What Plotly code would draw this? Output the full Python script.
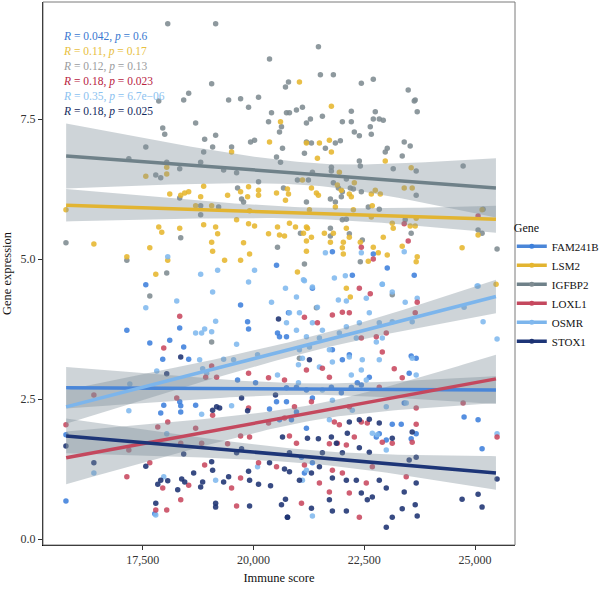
import plotly.graph_objects as go
import numpy as np

# ---------------- data ----------------
genes = ["FAM241B", "LSM2", "IGFBP2", "LOXL1", "OSMR", "STOX1"]
point_colors = {"FAM241B": "#3d80dc", "LSM2": "#e6b62e", "IGFBP2": "#7e8b91",
                "LOXL1": "#c8485f", "OSMR": "#80b8ee", "STOX1": "#1c3272"}
line_colors = {"FAM241B": "#4a86d8", "LSM2": "#e2b431", "IGFBP2": "#6f8189",
               "LOXL1": "#c4485e", "OSMR": "#7cb5ec", "STOX1": "#1d3577"}
stat_labels = ["<i>R</i> = 0.042, <i>p</i> = 0.6", "<i>R</i> = 0.11, <i>p</i> = 0.17",
               "<i>R</i> = 0.12, <i>p</i> = 0.13", "<i>R</i> = 0.18, <i>p</i> = 0.023",
               "<i>R</i> = 0.35, <i>p</i> = 6.7e\u221206", "<i>R</i> = 0.18, <i>p</i> = 0.025"]
stat_colors = ["#3a78d0", "#e8c040", "#9a9c9e", "#b8233f", "#8cc2f0", "#142a5e"]

igfbp2_pts = [
    (18063, 9.20), (19144, 9.20), (21464, 8.79), (20360, 8.57), (19054, 8.13), (18536, 7.96), (17860, 7.82),
    (18423, 7.84), (19437, 7.84), (19707, 7.86), (20112, 7.89), (20788, 8.16), (20720, 8.07), (21508, 8.29),
    (21801, 8.29), (22432, 8.14), (22702, 8.21), (23490, 8.02), (23648, 7.84), (19887, 7.71), (21103, 7.71),
    (17950, 7.34), (17995, 7.23), (18693, 7.43), (17568, 7.00), (18896, 7.14), (19144, 7.21), (19076, 7.00),
    (18874, 6.91), (19504, 7.00), (19932, 7.09), (20022, 7.12), (20338, 7.45), (20405, 7.61), (20743, 7.61),
    (20810, 7.61), (20968, 7.66), (20630, 7.36), (20585, 7.27), (20653, 6.98), (20518, 6.82), (20608, 6.73),
    (20990, 6.41), (18040, 6.73), (18333, 6.61), (17905, 6.45), (17793, 6.50), (17185, 6.79), (18806, 6.73),
    (19324, 6.59), (19617, 6.54), (20112, 6.38), (19639, 6.27), (20675, 6.27), (19729, 6.07), (19774, 6.02),
    (18333, 6.09), (18806, 5.95), (19211, 5.93), (18806, 5.79), (15766, 5.29), (18356, 5.38), (20540, 5.21),
    (17140, 4.98), (18040, 4.75), (17658, 4.34), (21058, 5.46),
    (21553, 7.55), (22206, 7.64), (22747, 7.63), (23693, 7.63), (23626, 7.82), (21193, 7.43), (21283, 7.50),
    (22004, 7.45), (22206, 7.45), (22634, 7.36), (22702, 7.50), (22837, 7.50), (22927, 7.48), (22274, 7.27),
    (22387, 7.20), (22657, 7.23), (21959, 7.11), (21846, 7.07), (21621, 6.98), (21306, 7.07), (21193, 7.09),
    (21148, 6.89), (23400, 7.09), (23535, 7.02), (23017, 6.98), (22972, 6.91), (23355, 6.84), (22387, 6.75),
    (22409, 6.66), (23152, 6.61), (23670, 6.57), (24729, 6.66), (21328, 6.55), (21756, 6.64), (21756, 6.57),
    (22094, 6.43), (21238, 6.41), (21801, 6.36), (21914, 6.27), (22184, 6.27), (22252, 6.25), (22432, 6.20),
    (22004, 6.20), (23670, 6.14), (21981, 6.11), (21734, 6.07), (21846, 6.02), (21193, 6.02), (22589, 5.93),
    (22837, 5.89), (25180, 5.89), (22004, 5.70), (22094, 5.71), (23422, 5.70), (21734, 5.55), (21734, 5.41),
    (22161, 5.45), (23557, 5.46), (25067, 5.52), (25157, 5.46), (22454, 5.34), (22409, 4.95), (21148, 4.91),
    (25495, 5.18), (23130, 4.36), (19054, 3.52), (21418, 4.13), (21035, 3.23)]

lsm2_pts = [
    (21035, 8.16), (21756, 7.73), (15766, 5.88), (16396, 5.27), (17140, 5.04), (17568, 6.48), (18040, 6.64),
    (18040, 6.52), (18108, 6.16), (18356, 6.14), (18446, 6.18), (18536, 6.20), (18874, 6.30), (18806, 6.11),
    (18693, 5.95), (19054, 5.95), (19504, 6.91), (20360, 7.09), (20608, 7.45), (19414, 6.14), (19707, 6.20),
    (19887, 6.29), (19865, 6.11), (20112, 6.23), (20112, 6.14), (20518, 6.18), (20720, 6.05), (20765, 6.25),
    (20788, 6.16), (19910, 5.86), (17860, 5.57), (17928, 5.48), (18333, 5.55), (18874, 5.61), (19144, 5.57),
    (19189, 5.45), (19617, 5.70), (19887, 5.63), (20022, 5.59), (20540, 5.57), (20810, 5.64), (20946, 5.57),
    (20338, 5.45), (20585, 5.43), (20698, 5.41), (19054, 5.30), (19076, 5.14), (19774, 5.29), (19910, 5.09),
    (17658, 5.20), (19346, 4.98), (19707, 4.98), (17793, 4.73), (18063, 4.98), (20990, 4.77),
    (21193, 7.07), (21486, 7.07), (21711, 7.12), (21756, 6.91), (21441, 6.80), (22972, 6.75), (21936, 6.55),
    (23557, 6.63), (21103, 6.41), (21306, 6.27), (21418, 6.18), (21463, 6.14), (22161, 6.16), (22206, 6.11),
    (22657, 6.16), (22747, 6.23), (22860, 6.16), (23400, 6.27), (23580, 6.27), (21891, 6.32), (21981, 6.23),
    (22274, 6.36), (22679, 5.95), (22252, 5.88), (21846, 5.93), (21261, 5.88), (22657, 5.75), (23670, 5.73),
    (23535, 5.59), (23648, 5.59), (23130, 5.64), (23152, 5.55), (25157, 5.88), (25067, 5.43), (24706, 5.20),
    (21193, 5.57), (21126, 5.46), (21216, 5.55), (21306, 5.39), (21598, 5.46), (21801, 5.46), (22094, 5.55),
    (22161, 5.39), (22026, 5.30), (21193, 5.32), (21734, 5.30), (22409, 5.30), (22927, 5.39), (22004, 5.20),
    (22702, 5.21), (23355, 5.23), (23017, 5.07), (22815, 5.11), (23693, 5.04), (23670, 4.95), (22589, 4.96),
    (22026, 5.09), (21193, 5.14), (22094, 4.48), (25473, 4.55), (22184, 4.32)]

fam241b_pts = [
    (17568, 4.54), (17140, 3.73), (17658, 3.50), (18333, 3.77), (18108, 3.55), (18423, 3.43), (17950, 3.21),
    (18536, 3.21), (18333, 2.45), (18356, 2.38), (18356, 2.27), (17905, 2.25), (17973, 2.39), (18693, 2.39),
    (15766, 1.86), (15766, 0.68), (17770, 0.45), (19639, 2.84), (19707, 4.18), (19887, 3.75), (19865, 3.88),
    (20540, 3.68), (20585, 3.61), (20743, 3.61), (20788, 4.04), (20518, 2.45), (20045, 2.79), (20360, 2.32),
    (20743, 2.45), (20585, 2.13), (20743, 2.70), (20968, 2.71), (21193, 2.66), (21328, 2.52), (21756, 2.71),
    (21981, 2.61), (22206, 2.71), (22341, 2.79), (22432, 2.75), (22612, 2.89), (22004, 3.20), (22161, 3.29),
    (21779, 3.38), (23557, 3.27), (23670, 3.23), (23512, 2.96), (23400, 2.43), (23130, 2.05), (23333, 2.05),
    (23670, 1.88), (23557, 1.79), (22837, 1.88), (22995, 1.77), (22770, 1.82), (24751, 2.18), (25067, 2.13),
    (25157, 1.61), (20855, 2.13), (20968, 2.27), (21193, 1.98), (21081, 1.46), (21148, 1.18), (21328, 1.36),
    (21779, 5.13), (22702, 5.09), (23017, 4.84), (22229, 4.71), (23626, 4.71), (21328, 4.48), (20518, 4.89)]

osmr_pts = [
    (17568, 4.13), (18266, 4.25), (19076, 4.41), (19887, 4.59), (20405, 4.23), (18693, 3.68), (18896, 3.75),
    (19054, 3.70), (18828, 3.68), (19144, 3.89), (19617, 3.48), (18783, 3.20), (19324, 3.21), (19549, 3.20),
    (20090, 3.29), (18851, 3.04), (18941, 2.96), (17815, 3.00), (17207, 2.77), (17185, 2.29), (18828, 2.23),
    (19504, 2.38), (18040, 1.88), (16396, 1.18), (17973, 1.11), (19144, 1.05), (20090, 1.29), (17793, 0.43),
    (20540, 2.93), (21148, 4.61), (21328, 4.50), (20968, 4.32), (20810, 4.04), (21035, 4.04), (21441, 4.14),
    (21914, 4.27), (22094, 4.25), (22544, 4.30), (22905, 4.55), (23130, 4.41), (23422, 4.23), (23693, 4.30),
    (25067, 4.52), (25180, 3.88), (25495, 3.57), (24751, 4.14), (20743, 3.86), (20968, 3.73), (21328, 3.86),
    (21553, 3.73), (22094, 3.79), (22387, 3.86), (22612, 4.04), (22837, 3.86), (23130, 3.88), (23580, 3.88),
    (21193, 3.61), (21486, 3.59), (21936, 3.68), (22319, 3.59), (22770, 3.52), (22905, 3.59), (21035, 3.38),
    (21261, 3.43), (21711, 3.38), (22161, 3.25), (22454, 3.20), (21779, 3.16), (21486, 3.07), (21013, 3.11),
    (21103, 3.23), (22206, 2.93), (22432, 3.02), (22837, 3.20), (23580, 3.23), (23670, 2.93), (21013, 2.79),
    (21553, 2.66), (21779, 2.48), (22544, 2.84), (22995, 2.36), (23445, 2.43), (25495, 1.88), (22229, 2.30),
    (21711, 2.13), (22680, 1.89), (22792, 1.86), (22995, 1.59), (21193, 1.23), (21103, 1.05), (21328, 0.41),
    (21621, 5.11), (22432, 5.11), (23400, 5.13), (21824, 4.66), (22071, 4.70), (22905, 4.55), (25045, 4.52),
    (21126, 4.63), (18063, 5.04), (18806, 4.73), (19189, 4.80), (20022, 4.80), (20720, 4.48)]

loxl1_pts = [
    (18333, 3.98), (17973, 3.41), (19054, 3.09), (18919, 2.89), (19166, 2.89), (19887, 2.96), (20338, 2.88),
    (20698, 2.84), (18266, 2.52), (18063, 2.09), (17838, 2.00), (18693, 1.98), (19076, 2.21), (19707, 1.84),
    (20338, 2.07), (15766, 2.04), (16396, 2.57), (17185, 1.59), (17658, 1.36), (18356, 1.71), (18828, 1.71),
    (19414, 1.70), (18896, 1.32), (19707, 1.09), (17950, 0.91), (18536, 0.96), (18356, 0.70), (19504, 0.91),
    (19617, 0.59), (17793, 0.52), (18040, 0.52), (17140, 1.11), (19887, 2.34), (19910, 1.82), (20112, 1.36),
    (20518, 1.29), (20698, 2.16), (22387, 4.48), (22634, 4.38), (21779, 4.00), (22004, 4.05), (22161, 4.04),
    (21441, 3.86), (21148, 3.96), (23693, 4.23), (23648, 4.04), (22995, 3.68), (22432, 3.59), (22770, 3.61),
    (22905, 3.34), (23175, 3.04), (23355, 2.88), (21193, 3.02), (21553, 3.05), (21711, 2.89), (22837, 2.71),
    (21306, 2.45), (20923, 2.36), (22161, 2.36), (23670, 2.34), (24729, 2.43), (25495, 1.82), (21824, 2.09),
    (21936, 2.04), (22432, 2.09), (23670, 2.05), (20810, 1.84), (20968, 1.71), (21711, 1.70), (21891, 1.71),
    (22094, 1.68), (22274, 1.82), (22567, 2.07), (22905, 1.73), (23130, 1.71), (23580, 1.73), (22680, 1.29),
    (23445, 1.11), (21148, 1.32), (21779, 1.23), (22004, 1.18), (21486, 1.00), (21711, 0.84), (22161, 0.82),
    (22544, 1.00), (21081, 0.64), (22387, 0.39), (25067, 5.77), (23400, 5.63), (23490, 5.32), (22432, 5.21),
    (22702, 5.00)]

stox1_pts = [
    (18040, 2.95), (18356, 3.25), (19166, 2.36), (19076, 2.30), (19729, 2.52), (19865, 2.29), (20495, 2.57),
    (20563, 3.93), (15766, 1.66), (16396, 1.36), (17568, 1.30), (17838, 0.98), (17905, 1.05), (18063, 1.04),
    (18288, 0.88), (18378, 1.07), (18446, 1.02), (18648, 1.18), (18806, 0.93), (18851, 1.02), (19076, 1.23),
    (19324, 1.02), (19437, 1.11), (19054, 1.38), (19617, 1.54), (19887, 1.21), (19910, 1.05), (19729, 1.61),
    (17793, 0.64), (19144, 0.64), (19144, 0.57), (19910, 0.59), (20383, 0.95), (20112, 0.98), (20630, 0.61),
    (20720, 0.71), (20765, 0.39), (20653, 1.82), (20360, 1.36), (20698, 1.25), (19234, 2.34), (18423, 1.52),
    (21261, 3.20), (22161, 2.09), (22387, 2.13), (22612, 2.14), (22837, 2.07), (23130, 1.80), (23580, 1.91),
    (23670, 1.46), (21216, 1.80), (21463, 1.79), (21756, 1.82), (21869, 1.71), (22116, 1.89), (22387, 1.63),
    (22612, 1.55), (22004, 1.54), (21553, 1.54), (20810, 1.54), (20810, 1.20), (21035, 1.05), (21306, 1.18),
    (21486, 1.29), (21779, 1.09), (22094, 1.05), (22319, 1.05), (22837, 1.05), (22995, 0.91), (23400, 0.84),
    (23670, 1.00), (21711, 0.70), (22432, 0.82), (22567, 0.70), (22680, 0.75), (21306, 0.55), (21779, 0.50),
    (22094, 0.50), (23355, 0.54), (23648, 0.61), (23693, 0.41), (22995, 0.21), (23130, 0.39), (20765, 0.39),
    (24706, 0.71), (25067, 0.80), (25157, 0.57), (25495, 1.07), (23512, 1.41)]

points = {"IGFBP2": igfbp2_pts, "LSM2": lsm2_pts, "FAM241B": fam241b_pts,
          "OSMR": osmr_pts, "LOXL1": loxl1_pts, "STOX1": stox1_pts}

# fitted lines (value at left and right end) and CI half-widths (left, middle, right)
fit_x = [15770, 25470]
fit_left = {"FAM241B": 2.70, "LSM2": 5.96, "IGFBP2": 6.84, "LOXL1": 1.45, "OSMR": 2.36, "STOX1": 1.84}
fit_right = {"FAM241B": 2.66, "LSM2": 5.71, "IGFBP2": 6.27, "LOXL1": 2.86, "OSMR": 4.33, "STOX1": 1.18}
ci_left = {"FAM241B": 0.37, "LSM2": 0.29, "IGFBP2": 0.58, "LOXL1": 0.47, "OSMR": 0.30, "STOX1": 0.31}
ci_mid = {"FAM241B": 0.10, "LSM2": 0.10, "IGFBP2": 0.20, "LOXL1": 0.14, "OSMR": 0.13, "STOX1": 0.12}
ci_right = {"FAM241B": 0.25, "LSM2": 0.24, "IGFBP2": 0.53, "LOXL1": 0.43, "OSMR": 0.30, "STOX1": 0.30}
x_center = 21300

x_ticks = [17500, 20000, 22500, 25000]
y_ticks = [0.0, 2.5, 5.0, 7.5]

FONT = "Liberation Serif"

fig = go.Figure()

# points
for g in ["IGFBP2", "LSM2", "FAM241B", "OSMR", "LOXL1", "STOX1"]:
    pts = points[g]
    fig.add_trace(go.Scatter(
        x=[p[0] for p in pts], y=[p[1] for p in pts], mode="markers",
        marker=dict(color=point_colors[g], size=5.5, opacity=0.88, line=dict(width=0)),
        showlegend=False, hoverinfo="skip"))

# confidence bands
for g in genes:
    xs = np.linspace(fit_x[0], fit_x[1], 80)
    slope = (fit_right[g] - fit_left[g]) / (fit_x[1] - fit_x[0])
    ys = fit_left[g] + slope * (xs - fit_x[0])
    hw = np.where(
        xs < x_center,
        np.sqrt(ci_mid[g] ** 2 + (ci_left[g] ** 2 - ci_mid[g] ** 2) * ((xs - x_center) / (fit_x[0] - x_center)) ** 2),
        np.sqrt(ci_mid[g] ** 2 + (ci_right[g] ** 2 - ci_mid[g] ** 2) * ((xs - x_center) / (fit_x[1] - x_center)) ** 2))
    fig.add_trace(go.Scatter(
        x=np.concatenate([xs, xs[::-1]]), y=np.concatenate([ys + hw, (ys - hw)[::-1]]),
        fill="toself", fillcolor="rgba(125,142,152,0.38)", line=dict(width=0),
        mode="lines", showlegend=False, hoverinfo="skip"))

# regression lines
for g in genes:
    fig.add_trace(go.Scatter(
        x=fit_x, y=[fit_left[g], fit_right[g]], mode="lines",
        line=dict(color=line_colors[g], width=3.5), showlegend=False, hoverinfo="skip"))

# legend entries
for g in genes:
    fig.add_trace(go.Scatter(
        x=[None], y=[None], mode="lines+markers", name=g,
        line=dict(color=line_colors[g], width=3.5),
        marker=dict(color=point_colors[g], size=5)))

# statistic annotations (one block, one coloured line per gene)
stat_text = "<br>".join(f"<span style='color:{c}'>{t}</span>" for t, c in zip(stat_labels, stat_colors))
fig.add_annotation(text=stat_text, xref="paper", yref="paper",
                   x=(61 - 43) / 472, y=(545 - 28) / 543,
                   xanchor="left", yanchor="top", align="left", showarrow=False,
                   font=dict(family=FONT, size=11.5))

# frame
fig.add_shape(type="rect", xref="paper", yref="paper", x0=0, x1=1, y0=0, y1=1,
              line=dict(color="#7a7a7a", width=1), layer="above")

fig.update_layout(
    width=600, height=590,
    margin=dict(l=43, r=85, t=2, b=45, autoexpand=False),
    paper_bgcolor="white", plot_bgcolor="white",
    font=dict(family=FONT, size=12, color="#333333"),
    legend=dict(title=dict(text="Gene", font=dict(family=FONT, size=12, color="#111")),
                xref="container", yref="container",
                x=0.853, xanchor="left", y=0.515, yanchor="middle",
                font=dict(family=FONT, size=11, color="#111"),
                tracegroupgap=0, itemwidth=30, bgcolor="rgba(0,0,0,0)"),
    xaxis=dict(range=[15248, 25900], tickvals=x_ticks, tickformat=",", showgrid=False, zeroline=False,
               showline=True, linecolor="black", linewidth=1, ticks="outside", ticklen=4,
               tickcolor="#333", title=dict(text="Immune score", font=dict(family=FONT, size=12.5, color="#111"),
                                             standoff=6)),
    yaxis=dict(range=[-0.107, 9.59], tickvals=y_ticks, tickformat=".1f", showgrid=False, zeroline=False,
               showline=True, linecolor="black", linewidth=1, ticks="outside", ticklen=4,
               tickcolor="#333", title=dict(text="Gene expression", font=dict(family=FONT, size=12.5, color="#111"),
                                             standoff=6)),
)

fig.write_html("out.html")
